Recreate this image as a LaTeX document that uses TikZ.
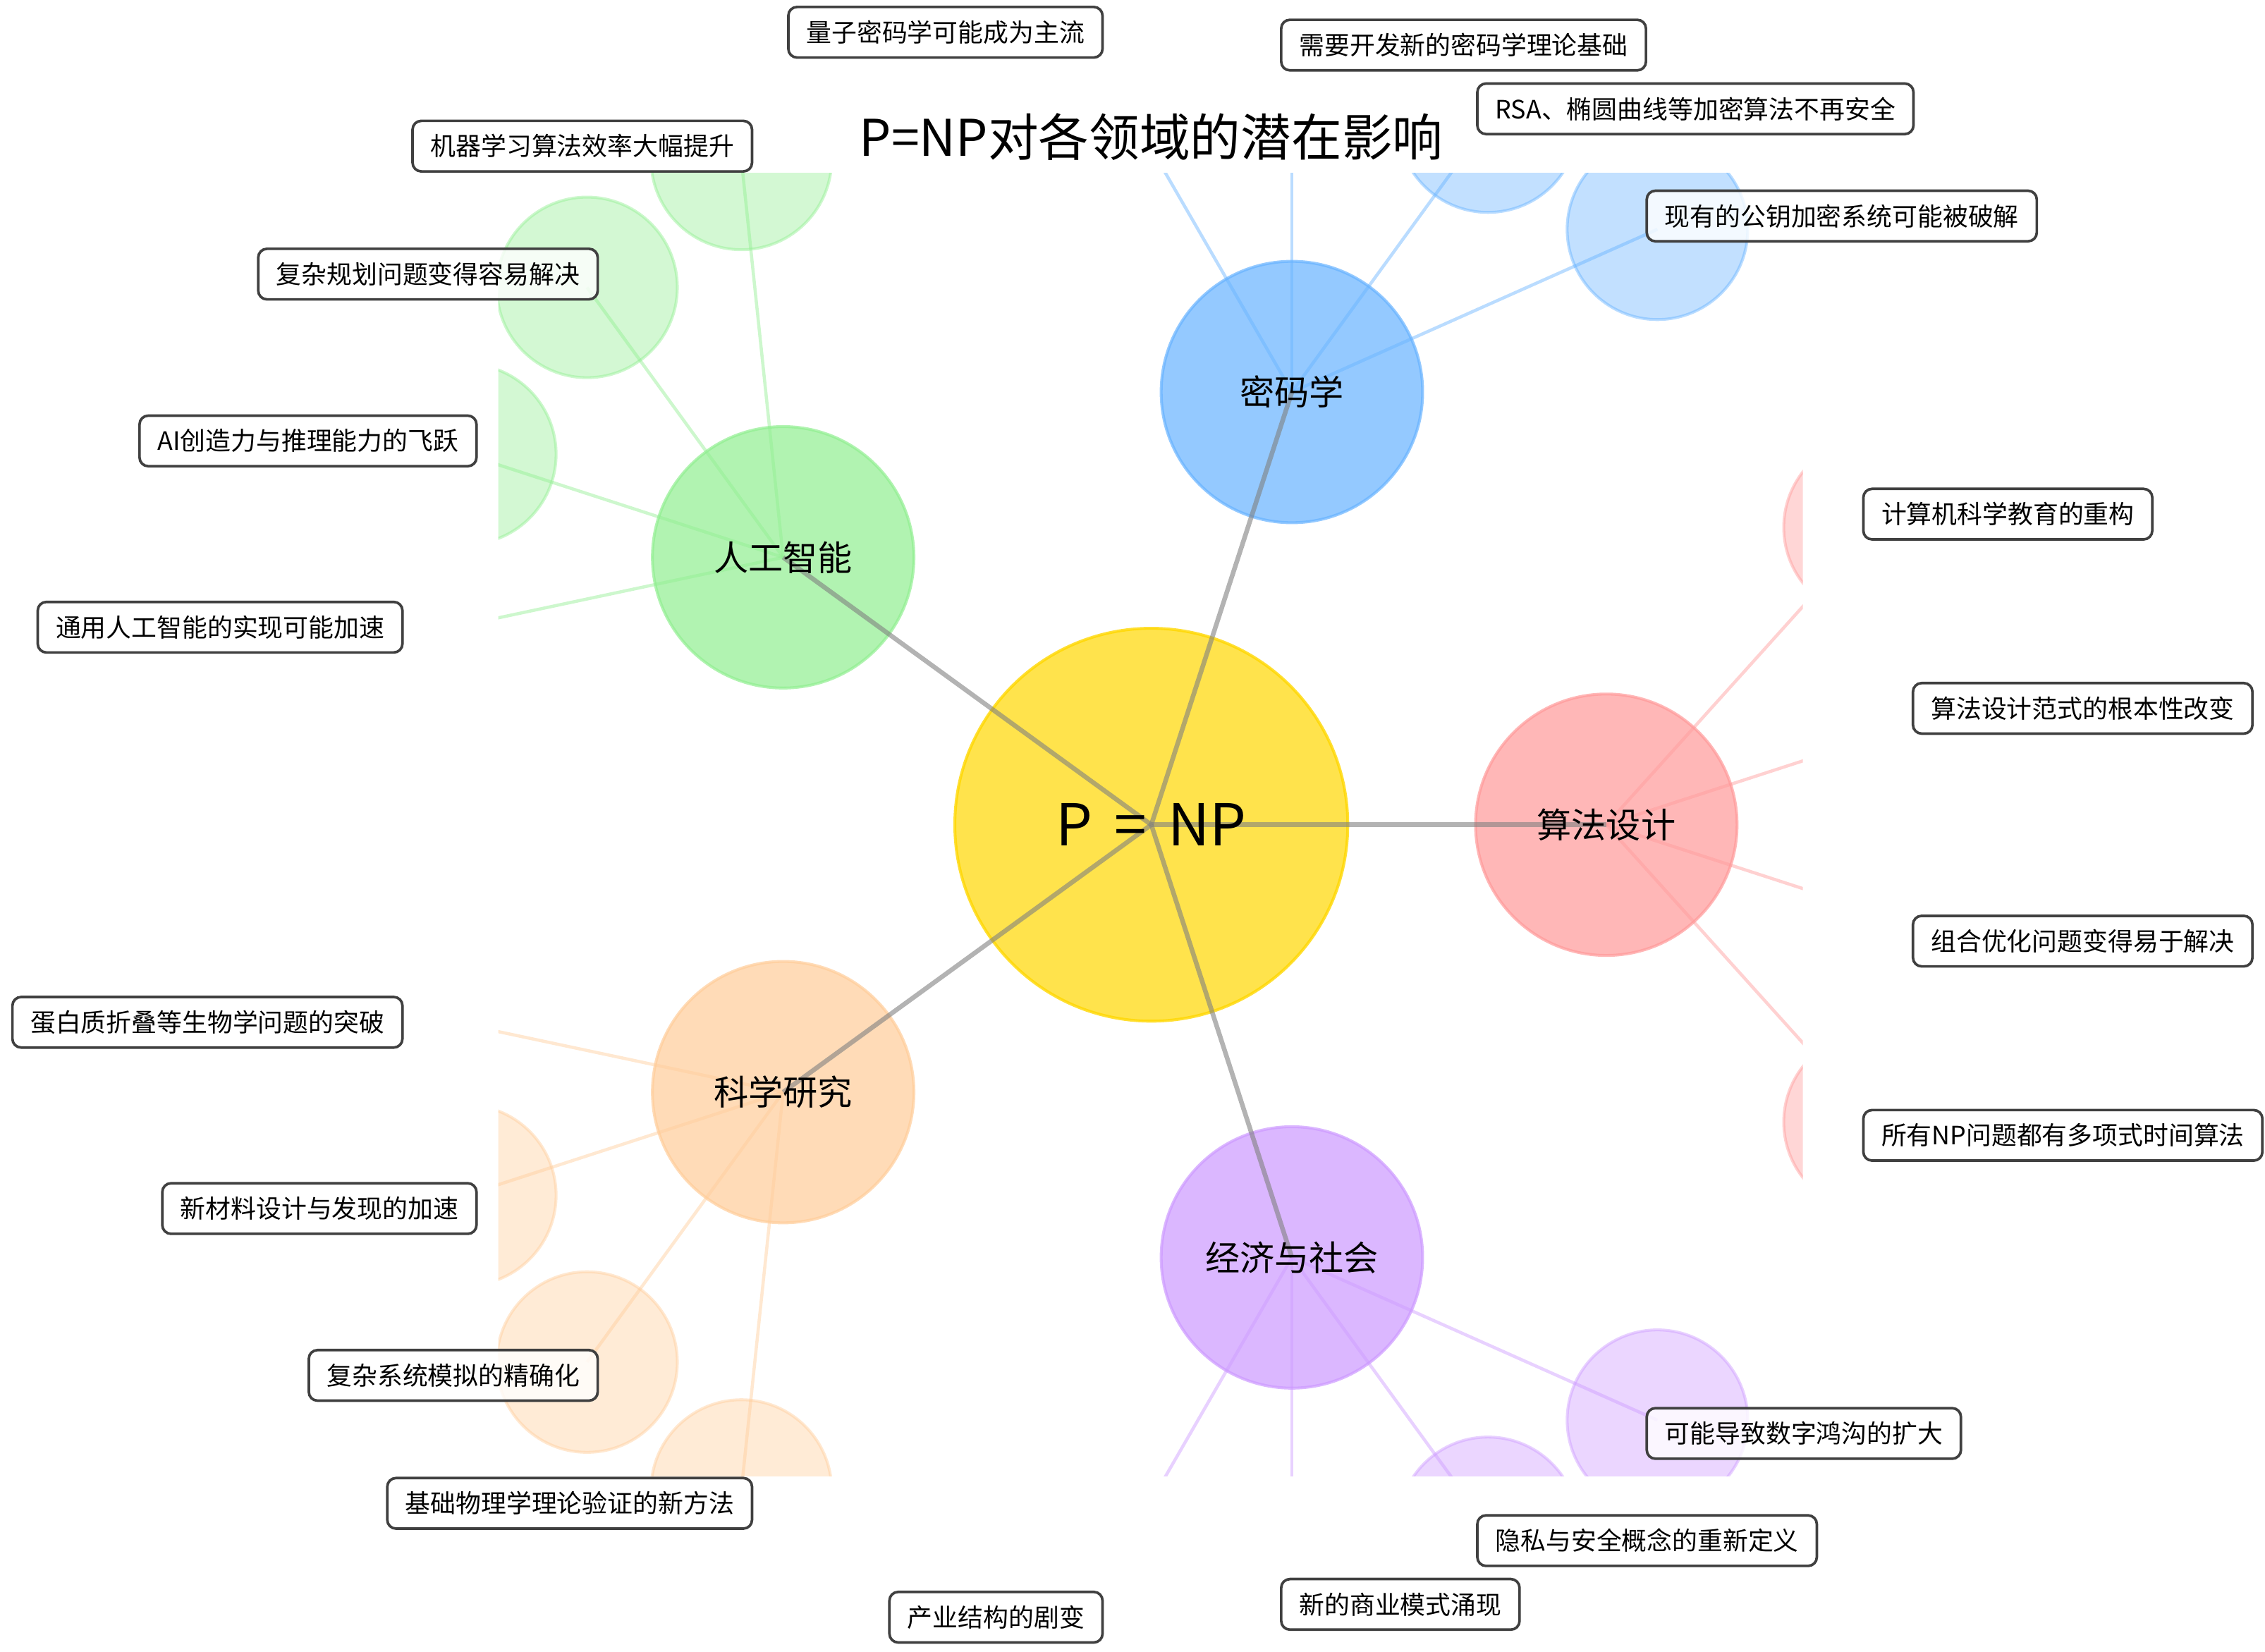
\documentclass[tikz,border=0pt]{standalone}
\usepackage{fontspec}
\setmainfont{Noto Sans CJK SC}
\usetikzlibrary{calc}
\definecolor{cgold}{HTML}{FFD700}
\definecolor{cai}{HTML}{90EE90}
\definecolor{ccr}{HTML}{66B2FF}
\definecolor{cal}{HTML}{FF9999}
\definecolor{csc}{HTML}{FFCC99}
\definecolor{cec}{HTML}{CC99FF}
\definecolor{lblborder}{HTML}{404040}
\tikzset{
  hub/.style={circle, inner sep=0pt, minimum size=272pt, fill=cgold, fill opacity=0.7, draw=cgold, draw opacity=0.8, line width=2pt},
  catnode/.style={circle, inner sep=0pt, minimum size=181pt, fill=#1, fill opacity=0.7, draw=#1, draw opacity=0.7, line width=2pt},
  leafnode/.style={circle, inner sep=0pt, minimum size=125pt, fill=#1, fill opacity=0.4, draw=#1, draw opacity=0.45, line width=2pt},
  spoke/.style={draw=gray, draw opacity=0.6, line width=3.2pt},
  twig/.style={draw=#1, draw opacity=0.45, line width=2.2pt},
  cattext/.style={font=\fontsize{24}{28}\selectfont, inner sep=0pt},
  lbl/.style={draw=lblborder, line width=1.8pt, rounded corners=6pt, fill=white, fill opacity=0.8, text opacity=1, font=\fontsize{17.5}{20}\selectfont, minimum height=35pt, inner xsep=12.5pt, inner ysep=0pt},
}
\begin{document}
\begin{tikzpicture}[x=1pt,y=-1pt]
\useasboundingbox (0,0) rectangle (1568,1143.3);
\begin{scope}
\clip (345,120) rectangle (1248,1022);
% hub and categories
\node[hub] (hub) at (797,571) {};
\node[catnode=cal] (al) at (1112,571) {};
\node[catnode=ccr] (cr) at (894.34,271.42) {};
\node[catnode=cai] (ai) at (542.16,385.85) {};
\node[catnode=csc] (sc) at (542.16,756.15) {};
\node[catnode=cec] (ec) at (894.34,870.58) {};
% leaves AI
\node[leafnode=cai] (ai1) at (513.21,110.37) {};
\node[leafnode=cai] (ai2) at (406.38,198.97) {};
\node[leafnode=cai] (ai3) at (322.47,314.47) {};
\node[leafnode=cai] (ai4) at (271.21,443.44) {};
% leaves crypto
\node[leafnode=ccr] (cr1) at (1147.39,158.75) {};
\node[leafnode=ccr] (cr2) at (1030.12,84.54) {};
\node[leafnode=ccr] (cr3) at (894.34,40.42) {};
\node[leafnode=ccr] (cr4) at (755.84,31.53) {};
% leaves algorithm
\node[leafnode=cal] (al1) at (1297.35,365.15) {};
\node[leafnode=cal] (al2) at (1331.69,499.62) {};
\node[leafnode=cal] (al3) at (1331.69,642.38) {};
\node[leafnode=cal] (al4) at (1297.35,776.85) {};
% leaves science
\node[leafnode=csc] (sc1) at (271.21,698.56) {};
\node[leafnode=csc] (sc2) at (322.47,827.53) {};
\node[leafnode=csc] (sc3) at (406.38,943.03) {};
\node[leafnode=csc] (sc4) at (513.21,1031.63) {};
% leaves economy
\node[leafnode=cec] (ec1) at (755.84,1110.47) {};
\node[leafnode=cec] (ec2) at (894.34,1101.58) {};
\node[leafnode=cec] (ec3) at (1030.12,1057.46) {};
\node[leafnode=cec] (ec4) at (1147.39,983.25) {};
% twigs
\foreach \i in {1,2,3,4} {
  \draw[twig=cai] (ai.center) -- (ai\i.center);
  \draw[twig=ccr] (cr.center) -- (cr\i.center);
  \draw[twig=cal] (al.center) -- (al\i.center);
  \draw[twig=csc] (sc.center) -- (sc\i.center);
  \draw[twig=cec] (ec.center) -- (ec\i.center);
}
% spokes
\foreach \c in {ai,cr,al,sc,ec} {
  \draw[spoke] (hub.center) -- (\c.center);
}
\end{scope}
% texts
\node[font=\fontsize{40}{44}\selectfont, inner sep=0pt] (hubt) at (hub.center) {P\hspace{15pt}=\hspace{15pt}NP};
\node[cattext] (ait) at (ai.center) {人工智能};
\node[cattext] (crt) at (cr.center) {密码学};
\node[cattext] (alt) at (al.center) {算法设计};
\node[cattext] (sct) at (sc.center) {科学研究};
\node[cattext] (ect) at (ec.center) {经济与社会};
\node[font=\fontsize{35}{40}\selectfont, inner sep=0pt] (title) at (797,95) {P=NP对各领域的潜在影响};
% labels AI
\node[lbl, anchor=east] (ail1) at ($(ai1.center)+(8.3,-9.2)$) {机器学习算法效率大幅提升};
\node[lbl, anchor=east] (ail2) at ($(ai2.center)+(8.3,-9.2)$) {复杂规划问题变得容易解决};
\node[lbl, anchor=east] (ail3) at ($(ai3.center)+(8.3,-9.2)$) {AI创造力与推理能力的飞跃};
\node[lbl, anchor=east] (ail4) at ($(ai4.center)+(8.3,-9.2)$) {通用人工智能的实现可能加速};
% labels crypto
\node[lbl, anchor=west] (crl1) at ($(cr1.center)+(-8.3,-9.2)$) {现有的公钥加密系统可能被破解};
\node[lbl, anchor=west] (crl2) at ($(cr2.center)+(-8.3,-9.2)$) {RSA、椭圆曲线等加密算法不再安全};
\node[lbl, anchor=west] (crl3) at ($(cr3.center)+(-8.3,-9.2)$) {需要开发新的密码学理论基础};
\node[lbl, anchor=east] (crl4) at ($(cr4.center)+(8.3,-9.2)$) {量子密码学可能成为主流};
% labels algorithm
\node[lbl, anchor=west] (all1) at ($(al1.center)+(-8.3,-9.2)$) {计算机科学教育的重构};
\node[lbl, anchor=west] (all2) at ($(al2.center)+(-8.3,-9.2)$) {算法设计范式的根本性改变};
\node[lbl, anchor=west] (all3) at ($(al3.center)+(-8.3,9.2)$) {组合优化问题变得易于解决};
\node[lbl, anchor=west] (all4) at ($(al4.center)+(-8.3,9.2)$) {所有NP问题都有多项式时间算法};
% labels science
\node[lbl, anchor=east] (scl1) at ($(sc1.center)+(8.3,9.2)$) {蛋白质折叠等生物学问题的突破};
\node[lbl, anchor=east] (scl2) at ($(sc2.center)+(8.3,9.2)$) {新材料设计与发现的加速};
\node[lbl, anchor=east] (scl3) at ($(sc3.center)+(8.3,9.2)$) {复杂系统模拟的精确化};
\node[lbl, anchor=east] (scl4) at ($(sc4.center)+(8.3,9.2)$) {基础物理学理论验证的新方法};
% labels economy
\node[lbl, anchor=east] (ecl1) at ($(ec1.center)+(8.3,9.2)$) {产业结构的剧变};
\node[lbl, anchor=west] (ecl2) at ($(ec2.center)+(-8.3,9.2)$) {新的商业模式涌现};
\node[lbl, anchor=west] (ecl3) at ($(ec3.center)+(-8.3,9.2)$) {隐私与安全概念的重新定义};
\node[lbl, anchor=west] (ecl4) at ($(ec4.center)+(-8.3,9.2)$) {可能导致数字鸿沟的扩大};
\end{tikzpicture}
\end{document}
